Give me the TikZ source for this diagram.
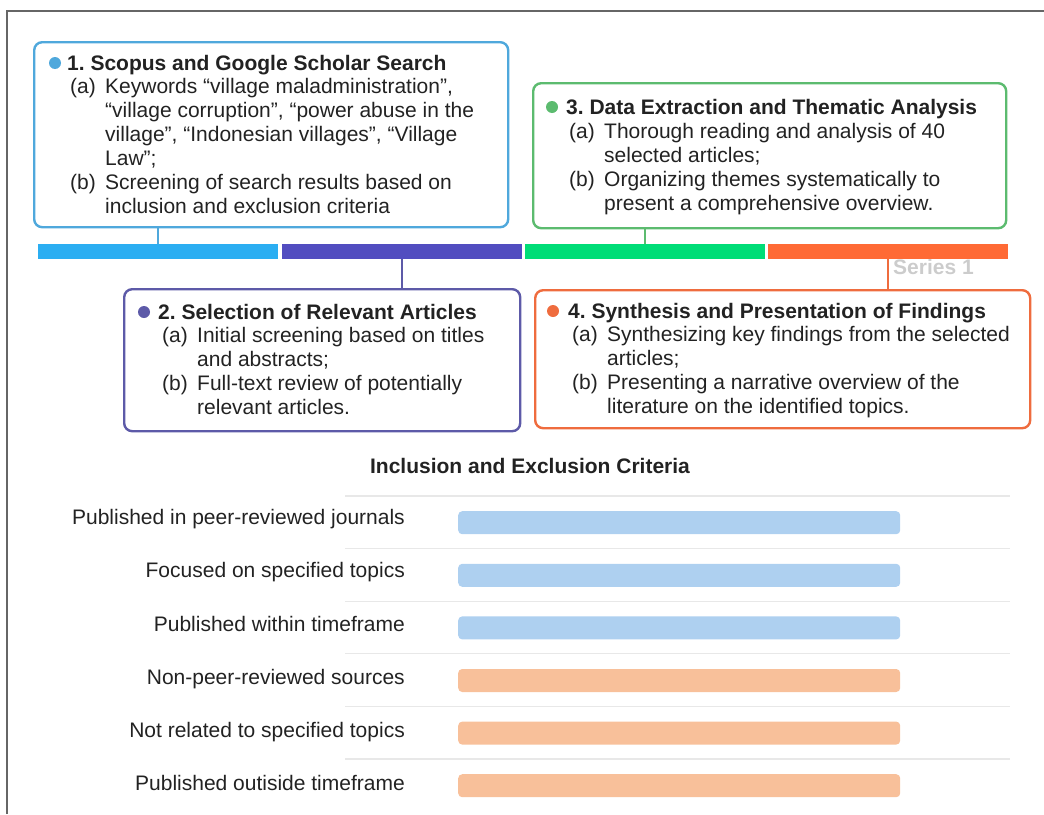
\documentclass[tikz,border=0pt]{standalone}
\usepackage{fontspec}
\setmainfont{Liberation Sans}
\usetikzlibrary{positioning}
\definecolor{txt}{HTML}{222222}
\definecolor{frame}{HTML}{666666}
\definecolor{cA}{HTML}{4FA8DC}
\definecolor{cB}{HTML}{5D5AA8}
\definecolor{cC}{HTML}{5CBB6F}
\definecolor{cD}{HTML}{EF6C3E}
\definecolor{sA}{HTML}{2BAEF2}
\definecolor{sB}{HTML}{524DC0}
\definecolor{sC}{HTML}{00DD77}
\definecolor{sD}{HTML}{FF6A35}
\definecolor{incl}{HTML}{AED0F0}
\definecolor{excl}{HTML}{F8C09A}
\definecolor{grid}{HTML}{E8E8E8}
\definecolor{series}{HTML}{CCCCCC}
\tikzset{
  stepframe/.style={draw=#1, line width=2.4pt, rounded corners=8pt, inner sep=0pt, anchor=north west},
  seg/.style={fill=#1, draw=none, inner sep=0pt, minimum height=15pt, anchor=north west},
  conn/.style={draw=#1, line width=1.6pt},
  dotmark/.style={circle, fill=#1, inner sep=0pt, minimum size=12pt},
  ttl/.style={anchor=base west, inner sep=0pt, text=txt, font=\fontsize{21}{24}\selectfont\bfseries},
  body/.style={anchor=base west, inner sep=0pt, text=txt, font=\fontsize{21}{24}\selectfont},
  critlabel/.style={anchor=base east, inner sep=0pt, text=txt, font=\fontsize{21}{24}\selectfont},
  critbar/.style={fill=#1, draw=none, rounded corners=4pt, inner sep=0pt, minimum width=442pt, minimum height=23pt, anchor=north west},
}
\newcommand{\lab}[1]{\makebox[35pt][l]{#1}}
\newcommand{\itemrows}[1]{\begin{tabular}[t]{@{}l@{}}#1\end{tabular}}
\frenchspacing
\begin{document}
\frenchspacing
\begin{tikzpicture}[x=1pt,y=-1pt]
\useasboundingbox (0,0) rectangle (1044,814);
% outer frame
\draw[frame, line width=2pt] (7,814) -- (7,11) -- (1044,11);

% series label (partly under the bar)
\node[anchor=base west, inner sep=0pt, text=series, font=\fontsize{21}{24}\selectfont\bfseries] (ser) at (893,274) {Series 1};

% timeline segments
\node[seg=sA, minimum width=240pt] (s1) at (38,244) {};
\node[seg=sB, minimum width=240pt] (s2) at (282,244) {};
\node[seg=sC, minimum width=240pt] (s3) at (525,244) {};
\node[seg=sD, minimum width=240pt] (s4) at (768,244) {};

% boxes
\node[stepframe=cA, minimum width=474pt, minimum height=185pt] (b1) at (33,41) {};
\node[stepframe=cB, minimum width=396pt, minimum height=142pt] (b2) at (123,288) {};
\node[stepframe=cC, minimum width=473pt, minimum height=145pt] (b3) at (532,82) {};
\node[stepframe=cD, minimum width=495pt, minimum height=138pt] (b4) at (534,289) {};

% connectors
\draw[conn=cA] (b1.south -| 158,0) -- (s1.north -| 158,0);
\draw[conn=cB] (s2.south -| 402,0) -- (b2.north -| 402,0);
\draw[conn=cC] (b3.south -| 645,0) -- (s3.north -| 645,0);
\draw[conn=cD] (s4.south -| 888,0) -- (b4.north -| 888,0);

% box 1 content
\node[dotmark=cA] (d1) at (55,63) {};
\node[ttl] (t1) at (67,70) {1. Scopus and Google Scholar Search};
\node[body] (i1) at (70,93.5) {\fontsize{21}{24}\selectfont\itemrows{%
\lab{(a)}Keywords “village maladministration”,\\
\lab{}“village corruption”, “power abuse in the\\
\lab{}village”, “Indonesian villages”, “Village\\
\lab{}Law”;\\
\lab{(b)}Screening of search results based on\\
\lab{}inclusion and exclusion criteria}};

% box 2 content
\node[dotmark=cB] (d2) at (144,312) {};
\node[ttl] (t2) at (158,319) {2. Selection of Relevant Articles};
\node[body] (i2) at (162,342.5) {\fontsize{21}{24}\selectfont\itemrows{%
\lab{(a)}Initial screening based on titles\\
\lab{}and abstracts;\\
\lab{(b)}Full-text review of potentially\\
\lab{}relevant articles.}};

% box 3 content
\node[dotmark=cC] (d3) at (552,107) {};
\node[ttl] (t3) at (566,114) {3. Data Extraction and Thematic Analysis};
\node[body] (i3) at (569,138.5) {\fontsize{21}{24}\selectfont\itemrows{%
\lab{(a)}Thorough reading and analysis of 40\\
\lab{}selected articles;\\
\lab{(b)}Organizing themes systematically to\\
\lab{}present a comprehensive overview.}};

% box 4 content
\node[dotmark=cD] (d4) at (553,311) {};
\node[ttl] (t4) at (568,318) {4. Synthesis and Presentation of Findings};
\node[body] (i4) at (572,341.5) {\fontsize{21}{24}\selectfont\itemrows{%
\lab{(a)}Synthesizing key findings from the selected\\
\lab{}articles;\\
\lab{(b)}Presenting a narrative overview of the\\
\lab{}literature on the identified topics.}};

% criteria chart
\node[anchor=base, inner sep=0pt, text=txt, font=\fontsize{21}{24}\selectfont\bfseries] (ct) at (530,473) {Inclusion and Exclusion Criteria};
\foreach \i in {0,...,5} {
  \draw[grid, line width=1.2pt] (345,{496+52.6*\i}) -- (1010,{496+52.6*\i});
}
\node[critbar=incl] (r1) at (458,511) {};
\node[critbar=incl] (r2) at (458,563.6) {};
\node[critbar=incl] (r3) at (458,616.2) {};
\node[critbar=excl] (r4) at (458,668.8) {};
\node[critbar=excl] (r5) at (458,721.4) {};
\node[critbar=excl] (r6) at (458,774) {};
\node[critlabel] (l1) at (405,524) {Published in peer-reviewed journals};
\node[critlabel] (l2) at (405,577.5) {Focused on specified topics};
\node[critlabel] (l3) at (405,631) {Published within timeframe};
\node[critlabel] (l4) at (405,684) {Non-peer-reviewed sources};
\node[critlabel] (l5) at (405,737) {Not related to specified topics};
\node[critlabel] (l6) at (405,790) {Published outiside timeframe};
\end{tikzpicture}
\end{document}
